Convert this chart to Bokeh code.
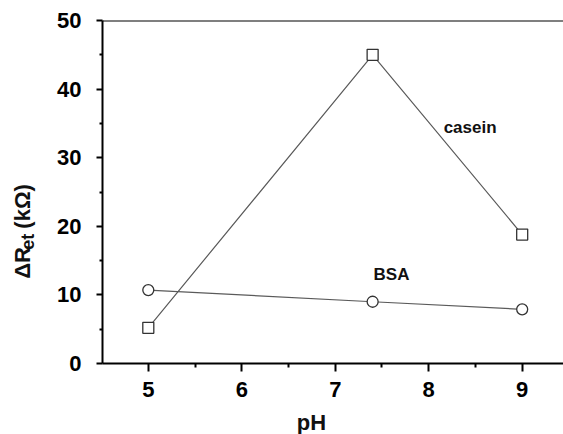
import math
from bokeh.plotting import figure
from bokeh.layouts import row, column
from bokeh.models import Range1d, FixedTicker, Label, Span
from bokeh.embed import file_html
from bokeh.resources import INLINE

# data
ph = [5.0, 7.4, 9.0]
casein = [5.2, 45.0, 18.8]
bsa = [10.7, 9.0, 7.9]
x_ticks = [5, 6, 7, 8, 9]
x_minor = [5.5, 6.5, 7.5, 8.5]
y_ticks = [0, 10, 20, 30, 40, 50]
y_minor = [5, 15, 25, 35, 45]
y_title = ["ΔR", "et", "(kΩ)"]
x_title = "pH"

FONT = "Liberation Sans"
TXT = "#111111"


def blank(w, h):
    f = figure(width=w, height=h, x_range=Range1d(0, w), y_range=Range1d(0, h),
               output_backend="svg", toolbar_location=None,
               x_axis_location=None, y_axis_location=None, min_border=0)
    f.outline_line_color = None
    f.xgrid.visible = False
    f.ygrid.visible = False
    return f


p = figure(width=523, height=406, x_range=Range1d(4.51, 9.442), y_range=Range1d(0, 50),
           output_backend="svg", toolbar_location=None,
           min_border_left=62, min_border_right=0, min_border_top=20, min_border_bottom=43)
p.outline_line_color = None
p.xgrid.visible = False
p.ygrid.visible = False

for ax in (p.xaxis[0], p.yaxis[0]):
    ax.axis_line_width = 2
    ax.axis_line_color = "black"
    ax.major_tick_line_color = "black"
    ax.minor_tick_line_color = "black"
    ax.major_tick_line_width = 2
    ax.minor_tick_line_width = 2
    ax.major_tick_in = 0
    ax.minor_tick_in = 0
    ax.major_label_text_font = FONT
    ax.major_label_text_font_style = "bold"
    ax.major_label_text_font_size = "22px"
    ax.major_label_text_color = "black"

p.xaxis.ticker = FixedTicker(ticks=x_ticks, minor_ticks=x_minor)
p.yaxis.ticker = FixedTicker(ticks=y_ticks, minor_ticks=y_minor)
p.xaxis.major_tick_out = 8
p.xaxis.minor_tick_out = 4
p.yaxis.major_tick_out = 6
p.yaxis.minor_tick_out = 3
p.xaxis.major_label_standoff = 10
p.yaxis.major_label_standoff = 15

# top frame line
p.add_layout(Span(location=50, dimension="width", line_color="black", line_width=2))

# series
p.line(ph, casein, line_color="#5a5a5a", line_width=1.2)
p.line(ph, bsa, line_color="#5a5a5a", line_width=1.2)
p.scatter(ph, casein, marker="square", size=11, fill_color="white", line_color="#333333", line_width=1.3)
p.scatter(ph, bsa, marker="circle", size=11, fill_color="white", line_color="#333333", line_width=1.3)


def lab(fig, x, y, t, size, align="left", angle=0.0):
    fig.add_layout(Label(x=x, y=y, text=t, text_font=FONT, text_font_style="bold",
                         text_font_size=size, text_color=TXT, text_align=align,
                         text_baseline="middle", angle=angle))


lab(p, 8.16, 34.36, "casein", "17px")
lab(p, 7.41, 12.97, "BSA", "17px")

# left strip (40 x 406) holding the y-axis title (ΔR with subscript "et")
lf = blank(40, 406)
lab(lf, 22, 119, y_title[0], "22px", align="center", angle=math.pi / 2)
lab(lf, 27.7, 144, y_title[1], "18px", align="center", angle=math.pi / 2)
lab(lf, 22, 186, y_title[2], "22px", align="center", angle=math.pi / 2)

# bottom strip (563 x 28) holding the x-axis title
bf = blank(563, 28)
lab(bf, 311, 12.5, x_title, "22px", align="center")

layout = column(row(lf, p, spacing=0), bf, spacing=0)
open("out.html", "w").write(file_html(layout, INLINE))
